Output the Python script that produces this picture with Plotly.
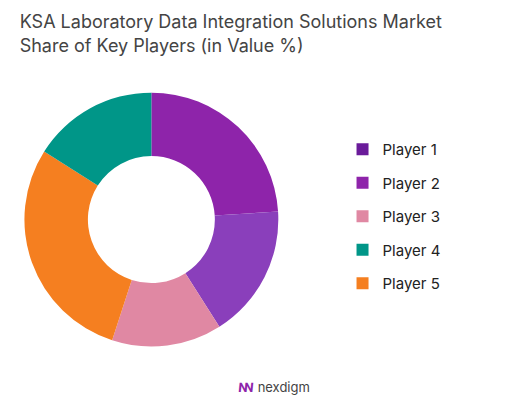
import plotly.graph_objects as go

players = ['Player 1', 'Player 2', 'Player 3', 'Player 4', 'Player 5']
legend_colors = ['#6A1B9A', '#8E24AA', '#E088A3', '#009688', '#F57F20']

# slice order as drawn clockwise from the top
slice_labels = ['Player 1', 'Player 2', 'Player 3', 'Player 5', 'Player 4']
slice_values = [24, 17, 14, 29, 16]
slice_colors = ['#8E24AA', '#8A3FBB', '#E088A3', '#F57F20', '#009688']

fig = go.Figure()
fig.add_trace(go.Pie(labels=slice_labels, values=slice_values, sort=False,
                     direction='clockwise', rotation=0, hole=0.5,
                     marker=dict(colors=slice_colors), textinfo='none',
                     hoverinfo='label+percent', showlegend=False,
                     domain=dict(x=[0.025, 0.515], y=[0.16, 0.79])))

# legend entries in player order
for name, col in zip(players, legend_colors):
    fig.add_trace(go.Scatter(x=[None], y=[None], mode='markers', name=name,
                             legendgroup=name,
                             marker=dict(symbol='square', size=14, color=col)))

fig.update_layout(
    width=531, height=403, margin=dict(l=0, r=0, t=0, b=0),
    paper_bgcolor='white', plot_bgcolor='white',
    font=dict(family='Inter, sans-serif', color='#333'),
    title=dict(text='KSA Laboratory Data Integration Solutions Market<br>Share of Key Players (in Value %)',
               x=0.022, xanchor='left', y=0.95, yanchor='top',
               font=dict(size=18, color='#444')),
    xaxis=dict(visible=False), yaxis=dict(visible=False),
    legend=dict(x=0.63, y=0.69, yanchor='top', font=dict(size=15, color='#222'),
                itemsizing='constant', tracegroupgap=11),
)
fig.add_annotation(text='<b>ꟿ</b> <span style="color:#444">nexdigm</span>', x=0.5, y=0.035,
                   xref='paper', yref='paper', showarrow=False,
                   font=dict(size=13, color='#8E24AA'))

fig.write_html("out.html")
